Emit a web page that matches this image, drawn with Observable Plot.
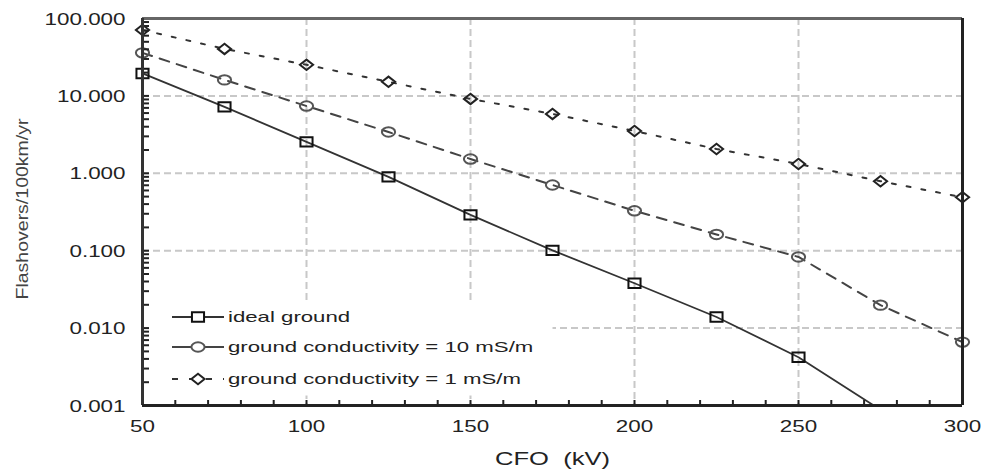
<!DOCTYPE html>
<html>
<head>
<meta charset="utf-8">
<script src="https://cdn.jsdelivr.net/npm/d3@7"></script>
<script src="https://cdn.jsdelivr.net/npm/@observablehq/plot@0.6"></script>
<style>
  html, body { margin: 0; padding: 0; background: #fff; }
  svg text { white-space: pre; }
</style>
</head>
<body>
<script>
// CFO (kV) values along the horizontal axis
const cfo = [50, 75, 100, 125, 150, 175, 200, 225, 250, 275, 300];

// Flashovers per 100 km per year for each grounding case
const idealGround = [19.5, 7.2, 2.55, 0.9, 0.29, 0.101, 0.038, 0.0139, 0.0042, 0.00088];
const cond10 = [36, 16.1, 7.4, 3.42, 1.53, 0.706, 0.328, 0.162, 0.083, 0.0198, 0.0066];
const cond1 = [71, 40.5, 25.2, 15.2, 9.15, 5.85, 3.52, 2.06, 1.32, 0.79, 0.49];

// Axis ticks and grid positions
const yLabels = [100, 10, 1, 0.1, 0.01, 0.001];
const yGrid = [10, 1, 0.1, 0.01];
const xLabels = [50, 100, 150, 200, 250, 300];
const xGrid = [100, 150, 200, 250];
const xMinor = d3.range(60, 300, 10);
const yMinor = d3.scaleLog().domain([0.001, 100]).ticks();
const yFormat = d3.format(".3f");
const xTitle = "CFO\u00a0 (kV)";
const yTitle = "Flashovers/100km/yr";

const seriesNames = ["ideal ground", "ground conductivity = 10 mS/m", "ground conductivity = 1 mS/m"];

// Marker shapes (slightly wide, like the printed figure)
const rectSym = {draw(ctx, size) {
  const r = Math.sqrt(size / Math.PI), w = r * 1.1, h = r * 0.85;
  ctx.moveTo(-w, -h); ctx.lineTo(w, -h); ctx.lineTo(w, h); ctx.lineTo(-w, h); ctx.closePath();
}};
const ellipseSym = {draw(ctx, size) {
  const r = Math.sqrt(size / Math.PI), a = r * 1.2, b = r * 0.85, k = 0.5523;
  ctx.moveTo(a, 0);
  ctx.bezierCurveTo(a, b * k, a * k, b, 0, b);
  ctx.bezierCurveTo(-a * k, b, -a, b * k, -a, 0);
  ctx.bezierCurveTo(-a, -b * k, -a * k, -b, 0, -b);
  ctx.bezierCurveTo(a * k, -b, a, -b * k, a, 0);
  ctx.closePath();
}};
const diamondSym = {draw(ctx, size) {
  const r = Math.sqrt(size / Math.PI), a = r * 1.2, b = r * 0.95;
  ctx.moveTo(a, 0); ctx.lineTo(0, b); ctx.lineTo(-a, 0); ctx.lineTo(0, -b); ctx.closePath();
}};

const series = [
  {name: seriesNames[0], y: idealGround, stroke: "#333", dash: null, width: 1.8, sym: rectSym, symStroke: "#111", legendDash: null},
  {name: seriesNames[1], y: cond10, stroke: "#444", dash: "10,8", width: 2, sym: ellipseSym, symStroke: "#555", legendDash: null},
  {name: seriesNames[2], y: cond1, stroke: "#333", dash: "4,11", width: 2, sym: diamondSym, symStroke: "#222", legendDash: "6,11"}
];

const rows = series.flatMap(s => s.y.map((v, i) => ({x: cfo[i], y: v, name: s.name})));
const yMin = 0.001, yMax = 100;

const W = 986, H = 472, ML = 142, MR = 24, MT = 18, MB = 67;
const FW = W - ML - MR, FH = H - MT - MB;

const marks = [
  // dashed grid
  Plot.ruleY(yGrid, {y: d => d, stroke: "#c8c8c8", strokeWidth: 2, strokeDasharray: "7,4"}),
  Plot.ruleX(xGrid, {x: d => d, stroke: "#c8c8c8", strokeWidth: 2, strokeDasharray: "7,4"})
];

// legend background hides the grid behind the key
marks.push(Plot.frame({fill: "white", stroke: "none", insetLeft: 6, insetRight: 410, insetTop: 282, insetBottom: 10}));

for (const s of series) {
  const data = rows.filter(r => r.name === s.name);
  const inside = data.filter(r => r.y >= yMin);
  const below = data.filter(r => r.y < yMin);
  const dotOpts = {x: "x", y: "y", symbol: s.sym, r: 5.5, fill: "none", stroke: s.symStroke, strokeWidth: 2};
  marks.push(Plot.line(data, {x: "x", y: "y", stroke: s.stroke, strokeWidth: s.width, strokeDasharray: s.dash, clip: below.length > 0}));
  marks.push(Plot.dot(inside, dotOpts));
  // points below the axis range are cut at the frame
  if (below.length) marks.push(Plot.dot(below, {...dotOpts, clip: true}));
}

marks.push(
  // inward ticks
  Plot.tickY(yMinor, {y: d => d, insetRight: FW - 7, stroke: "#222", strokeWidth: 2}),
  Plot.tickX(xMinor, {x: d => d, insetTop: FH - 5, stroke: "#222", strokeWidth: 2}),
  // frame
  Plot.ruleY([yMax], {y: d => d, stroke: "#666", strokeWidth: 3}),
  Plot.ruleX([300], {x: d => d, stroke: "#222", strokeWidth: 3}),
  Plot.ruleX([50], {x: d => d, stroke: "#333", strokeWidth: 3}),
  Plot.ruleY([yMin], {y: d => d, stroke: "#222", strokeWidth: 3}),
  // tick labels
  Plot.text(yLabels, {y: d => d, text: yFormat, frameAnchor: "left", textAnchor: "end", dx: -17, dy: 1, fill: "#222", fontSize: 16}),
  Plot.text(xLabels, {x: d => d, text: d => String(d), frameAnchor: "bottom", dy: 26, fill: "#222", fontSize: 16}),
  // axis titles
  Plot.text([xTitle], {frameAnchor: "bottom", dy: 59, fill: "#222", fontSize: 18}),
  Plot.text([yTitle], {frameAnchor: "left", textAnchor: "middle", dx: -120, dy: -3, rotate: -90, fill: "#444", fontSize: 16})
);

const plot = Plot.plot({
  width: W, height: H,
  marginLeft: ML, marginRight: MR, marginTop: MT, marginBottom: MB,
  x: {domain: [50, 300], axis: null},
  y: {type: "log", domain: [yMin, yMax], axis: null},
  style: {fontFamily: "'Liberation Sans', Arial, sans-serif", background: "white", overflow: "visible"},
  marks
});
document.body.appendChild(plot);

const svg = d3.select(plot);

// Widen lettering about each label's own anchor point
function widenText(el, sx) {
  const t = el.getAttribute("transform");
  if (t && /^translate/.test(t)) {
    el.setAttribute("transform", t + ` scale(${sx},1)`);
  } else {
    const x = +(el.getAttribute("x") || 0), y = +(el.getAttribute("y") || 0);
    const base = t ? t + " " : "";
    el.setAttribute("transform", base + `translate(${x},${y}) scale(${sx},1) translate(${-x},${-y})`);
  }
}
const tickTexts = new Set([...yLabels.map(yFormat), ...xLabels.map(String)]);
svg.selectAll("text").each(function() {
  const s = this.textContent;
  if (tickTexts.has(s)) widenText(this, 1.4);
  else if (s === xTitle) widenText(this, 1.42);
  else if (s === yTitle) widenText(this, 1.22);
});

// legend key
const legend = svg.append("g").attr("aria-label", "legend");
const rowY = [317, 347, 379];
series.forEach((s, i) => {
  const y = rowY[i];
  legend.append("line").attr("x1", 172).attr("x2", 224).attr("y1", y).attr("y2", y)
    .attr("stroke", s.stroke).attr("stroke-width", s.width).attr("stroke-dasharray", s.legendDash);
  legend.append("path").attr("d", d3.symbol(s.sym, Math.PI * 5.5 * 5.5)())
    .attr("transform", `translate(198,${y})`)
    .attr("fill", "white").attr("stroke", s.symStroke).attr("stroke-width", 2);
  legend.append("text").text(s.name)
    .attr("transform", `translate(228,${y}) scale(1.48,1)`)
    .attr("dy", "0.35em")
    .attr("text-anchor", "start")
    .attr("font-family", "'Liberation Sans', Arial, sans-serif")
    .attr("font-size", 15).attr("fill", "#222");
});
</script>
</body>
</html>
